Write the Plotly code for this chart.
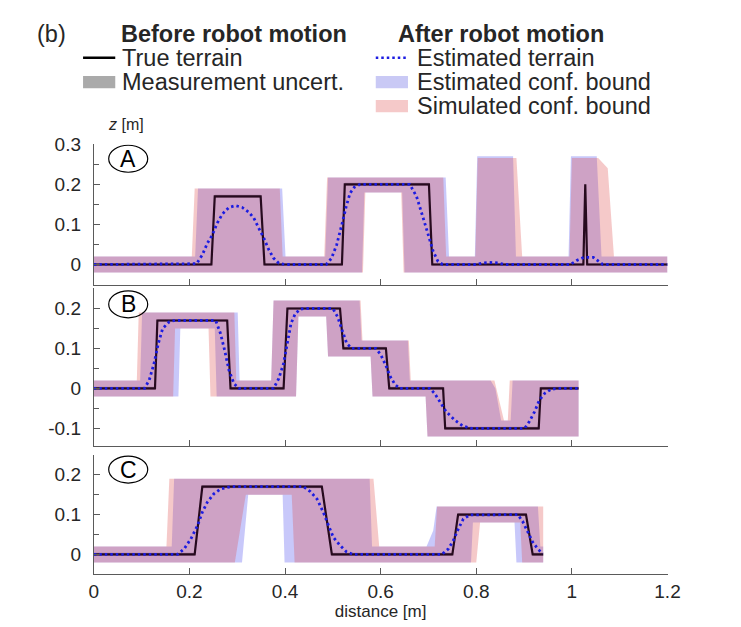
import plotly.graph_objects as go

W, H = 741, 627
FONT = "Liberation Sans, Arial, Helvetica, sans-serif"
TXT = "#262626"
AX = "#5a5a5a"

# ---------------- data ----------------
x_ticks = [0, 0.2, 0.4, 0.6, 0.8, 1.0, 1.2]
x_labels = ["0", "0.2", "0.4", "0.6", "0.8", "1", "1.2"]

# Panel A
A_true_x = [0, 0.246, 0.253, 0.349, 0.357, 0.519, 0.525, 0.701, 0.708, 1.024, 1.028, 1.032, 1.2]
A_true_z = [0, 0, 0.17, 0.17, 0, 0, 0.2, 0.2, 0, 0, 0.2, 0, 0]
A_est_x = [0, 0.215, 0.227, 0.2375, 0.248, 0.258, 0.269, 0.2826, 0.2965, 0.3104, 0.324, 0.3347, 0.345,
           0.3556, 0.366, 0.376, 0.387, 0.40, 0.486, 0.497, 0.508, 0.515, 0.521, 0.528, 0.536, 0.545,
           0.557, 0.661, 0.675, 0.689, 0.699, 0.71, 0.72, 0.73, 0.80, 0.815, 0.83, 0.845, 0.86, 0.997,
           1.01, 1.025, 1.045, 1.055, 1.065, 1.2]
A_est_z = [0, 0.002, 0.024, 0.053, 0.074, 0.103, 0.126, 0.1425, 0.147, 0.1425, 0.131, 0.116, 0.091,
           0.066, 0.037, 0.016, 0.003, 0, 0, 0.015, 0.049, 0.08, 0.11, 0.145, 0.178, 0.193,
           0.2, 0.2, 0.17, 0.116, 0.074, 0.0325, 0.0075, 0, 0, 0.004, 0.005, 0.004, 0, 0,
           0.01, 0.018, 0.018, 0.01, 0, 0]
A_eh_x = [0, 0.212, 0.218, 0.394, 0.401, 0.484, 0.490, 0.736, 0.743, 0.797, 0.802, 0.877, 0.883, 0.993, 0.998, 1.052, 1.062, 1.2]
A_eh_z = [0.02, 0.02, 0.19, 0.19, 0.02, 0.02, 0.217, 0.217, 0.02, 0.02, 0.27, 0.27, 0.02, 0.02, 0.27, 0.27, 0.02, 0.02]
A_el_x = [0, 0.561, 0.566, 0.645, 0.650, 1.2]
A_el_z = [-0.02, -0.02, 0.18, 0.18, -0.02, -0.02]
A_sh_x = [0, 0.205, 0.211, 0.389, 0.395, 0.482, 0.488, 0.731, 0.737, 0.798, 0.803, 0.884, 0.896, 0.995, 1.0, 1.055, 1.075, 1.088, 1.2]
A_sh_z = [0.02, 0.02, 0.19, 0.19, 0.02, 0.02, 0.217, 0.217, 0.02, 0.02, 0.266, 0.266, 0.02, 0.02, 0.266, 0.266, 0.24, 0.02, 0.02]
A_sl_x = [0, 0.563, 0.568, 0.643, 0.648, 1.2]
A_sl_z = [-0.02, -0.02, 0.18, 0.18, -0.02, -0.02]

# Panel B
B_true_x = [0, 0.128, 0.133, 0.279, 0.286, 0.397, 0.405, 0.515, 0.522, 0.611, 0.618, 0.7306, 0.735, 0.9306, 0.935, 1.014]
B_true_z = [0, 0, 0.17, 0.17, 0, 0, 0.2, 0.2, 0.1, 0.1, 0, 0, -0.1, -0.1, 0, 0]
B_est_x = [0, 0.106, 0.116, 0.126, 0.135, 0.144, 0.158, 0.17, 0.255, 0.265, 0.2736, 0.2826, 0.293, 0.303,
           0.376, 0.387, 0.397, 0.404, 0.4125, 0.4215, 0.432, 0.44, 0.50, 0.51, 0.519, 0.529, 0.54, 0.59,
           0.60, 0.61, 0.62, 0.63, 0.64, 0.703, 0.713, 0.727, 0.737, 0.755, 0.772, 0.79, 0.901, 0.911,
           0.922, 0.932, 0.943, 0.956, 0.97, 1.014]
B_est_z = [0, 0, 0.021, 0.0625, 0.1125, 0.15, 0.167, 0.17, 0.17, 0.1375, 0.096, 0.046, 0.0125, 0,
           0, 0.025, 0.0625, 0.1125, 0.1625, 0.1875, 0.198, 0.2, 0.2, 0.179, 0.146, 0.1125, 0.1, 0.1,
           0.085, 0.06, 0.03, 0.01, 0, 0, -0.0125, -0.0375, -0.058, -0.079, -0.094, -0.1, -0.1, -0.083,
           -0.058, -0.029, -0.0125, -0.0025, 0, 0]
B_eh_x = [0, 0.097, 0.101, 0.301, 0.305, 0.371, 0.376, 0.556, 0.560, 0.657, 0.661, 0.830, 0.840, 0.852, 0.872, 0.876, 1.014]
B_eh_z = [0.02, 0.02, 0.19, 0.19, 0.02, 0.02, 0.22, 0.22, 0.12, 0.12, 0.02, 0.02, 0.0, -0.08, -0.08, 0.02, 0.02]
B_el_x = [0, 0.177, 0.181, 0.253, 0.257, 0.423, 0.428, 0.486, 0.490, 0.579, 0.583, 0.694, 0.698, 1.014]
B_el_z = [-0.02, -0.02, 0.15, 0.15, -0.02, -0.02, 0.18, 0.18, 0.08, 0.08, -0.02, -0.02, -0.12, -0.12]
B_sh_x = [0, 0.090, 0.094, 0.294, 0.298, 0.371, 0.376, 0.558, 0.562, 0.659, 0.663, 0.838, 0.858, 0.866, 0.870, 1.014]
B_sh_z = [0.02, 0.02, 0.19, 0.19, 0.02, 0.02, 0.22, 0.22, 0.12, 0.12, 0.02, 0.02, -0.08, -0.08, 0.02, 0.02]
B_sl_x = [0, 0.166, 0.170, 0.240, 0.244, 0.423, 0.428, 0.486, 0.490, 0.579, 0.583, 0.694, 0.698, 1.014]
B_sl_z = [-0.02, -0.02, 0.15, 0.15, -0.02, -0.02, 0.18, 0.18, 0.08, 0.08, -0.02, -0.02, -0.12, -0.12]

# Panel C
C_true_x = [0, 0.211, 0.227, 0.477, 0.498, 0.75, 0.762, 0.904, 0.918, 0.94]
C_true_z = [0, 0, 0.17, 0.17, 0, 0, 0.1, 0.1, 0, 0]
C_est_x = [0, 0.175, 0.189, 0.203, 0.217, 0.227, 0.2375, 0.251, 0.265, 0.286, 0.439, 0.453, 0.467, 0.48,
           0.491, 0.501, 0.515, 0.529, 0.543, 0.728, 0.7417, 0.752, 0.7625, 0.7729, 0.7868, 0.8868,
           0.8972, 0.9076, 0.918, 0.9285, 0.939]
C_est_z = [0, 0, 0.014, 0.039, 0.0725, 0.106, 0.131, 0.152, 0.164, 0.17, 0.17, 0.1575, 0.139, 0.106,
           0.0725, 0.043, 0.0225, 0.006, 0, 0, 0.014, 0.035, 0.064, 0.089, 0.099, 0.1,
           0.0825, 0.056, 0.031, 0.014, 0.002]
C_eh_x = [0, 0.163, 0.168, 0.577, 0.582, 0.696, 0.710, 0.717, 0.929, 0.934, 0.94]
C_eh_z = [0.02, 0.02, 0.19, 0.19, 0.02, 0.02, 0.06, 0.12, 0.12, 0.02, 0.02]
C_el_x = [0, 0.310, 0.323, 0.395, 0.399, 0.789, 0.793, 0.880, 0.884, 0.94]
C_el_z = [-0.02, -0.02, 0.15, 0.15, -0.02, -0.02, 0.08, 0.08, -0.02, -0.02]
C_sh_x = [0, 0.152, 0.158, 0.585, 0.597, 0.713, 0.718, 0.94]
C_sh_z = [0.02, 0.02, 0.19, 0.19, 0.02, 0.02, 0.12, 0.12]
C_sl_x = [0, 0.295, 0.318, 0.414, 0.420, 0.800, 0.808, 0.892, 0.896, 0.94]
C_sl_z = [-0.02, -0.02, 0.15, 0.15, -0.02, -0.02, 0.08, 0.08, -0.02, -0.02]

MEAS_UNC = 0.004

panels = [
    dict(name="A", tx=A_true_x, tz=A_true_z, ex=A_est_x, ez=A_est_z,
         eh=(A_eh_x, A_eh_z), el=(A_el_x, A_el_z), sh=(A_sh_x, A_sh_z), sl=(A_sl_x, A_sl_z),
         yrange=[-0.05, 0.3], yticks=[0, 0.1, 0.2, 0.3], ylabels=["0", "0.1", "0.2", "0.3"],
         yminor=[-0.05, 0.05, 0.15, 0.25], ypx=(136.5, 279), lab_y=0.264),
    dict(name="B", tx=B_true_x, tz=B_true_z, ex=B_est_x, ez=B_est_z,
         eh=(B_eh_x, B_eh_z), el=(B_el_x, B_el_z), sh=(B_sh_x, B_sh_z), sl=(B_sl_x, B_sl_z),
         yrange=[-0.145, 0.25], yticks=[-0.1, 0, 0.1, 0.2], ylabels=["-0.1", "0", "0.1", "0.2"],
         yminor=[-0.05, 0.05, 0.15], ypx=(283, 443.5), lab_y=0.2105),
    dict(name="C", tx=C_true_x, tz=C_true_z, ex=C_est_x, ez=C_est_z,
         eh=(C_eh_x, C_eh_z), el=(C_el_x, C_el_z), sh=(C_sh_x, C_sh_z), sl=(C_sl_x, C_sl_z),
         yrange=[-0.05, 0.25], yticks=[0, 0.1, 0.2], ylabels=["0", "0.1", "0.2"],
         yminor=[0.05, 0.15], ypx=(452, 573.5), lab_y=0.213),
]

BLUE_FILL = "rgba(72,72,238,0.3)"
PINK_FILL = "rgba(222,75,75,0.3)"
GRAY_FILL = "rgba(120,120,120,0.55)"
LINE_COL = "rgb(38,10,30)"
DOT_COL = "rgb(28,28,225)"

X_LEFT, X_RIGHT = 91, 679


def poly(hi, lo):
    xs = list(hi[0]) + list(lo[0])[::-1]
    ys = list(hi[1]) + list(lo[1])[::-1]
    return xs, ys


fig = go.Figure()
layout_axes = {}
shapes = []
annotations = []

for i, p in enumerate(panels):
    k = "" if i == 0 else str(i + 1)
    xa, ya = "x" + k, "y" + k
    mx = list(p["tx"]) + list(p["tx"])[::-1]
    my = [z + MEAS_UNC for z in p["tz"]] + [z - MEAS_UNC for z in p["tz"]][::-1]
    fig.add_trace(go.Scatter(x=mx, y=my, fill="toself", fillcolor=GRAY_FILL, mode="none",
                             xaxis=xa, yaxis=ya, showlegend=False, hoverinfo="skip"))
    bx, by = poly(p["eh"], p["el"])
    fig.add_trace(go.Scatter(x=bx, y=by, fill="toself", fillcolor=BLUE_FILL, mode="none",
                             xaxis=xa, yaxis=ya, showlegend=False, hoverinfo="skip"))
    sx, sy = poly(p["sh"], p["sl"])
    fig.add_trace(go.Scatter(x=sx, y=sy, fill="toself", fillcolor=PINK_FILL, mode="none",
                             xaxis=xa, yaxis=ya, showlegend=False, hoverinfo="skip"))
    fig.add_trace(go.Scatter(x=p["tx"], y=p["tz"], mode="lines",
                             line=dict(color=LINE_COL, width=2.2),
                             xaxis=xa, yaxis=ya, showlegend=False))
    fig.add_trace(go.Scatter(x=p["ex"], y=p["ez"], mode="lines",
                             line=dict(color=DOT_COL, width=2.8, dash="2.5px,3px"),
                             xaxis=xa, yaxis=ya, showlegend=False))

    y0px, y1px = p["ypx"]
    layout_axes["xaxis" + k] = dict(
        domain=[X_LEFT / W, X_RIGHT / W], range=[0, 1.2], anchor=ya,
        tickmode="array", tickvals=x_ticks, ticktext=x_labels,
        showticklabels=(i == 2), ticks="inside", ticklen=6, tickcolor=AX, tickwidth=1,
        showline=True, linecolor=AX, linewidth=1, showgrid=False, zeroline=False,
        tickfont=dict(family=FONT, size=19, color=TXT), ticklabelstandoff=0,
    )
    layout_axes["yaxis" + k] = dict(
        domain=[1 - y1px / H, 1 - y0px / H], range=p["yrange"], anchor=xa,
        tickmode="array", tickvals=p["yticks"], ticktext=p["ylabels"],
        ticks="inside", ticklen=6, tickcolor=AX, tickwidth=1,
        minor=dict(tickmode="array", tickvals=p["yminor"], ticks="inside", ticklen=5,
                   tickcolor=AX, tickwidth=1, showgrid=False),
        showline=True, linecolor=AX, linewidth=1, showgrid=False, zeroline=False,
        tickfont=dict(family=FONT, size=19, color=TXT), ticklabelstandoff=8,
    )
    shapes.append(dict(type="circle", xref=xa, yref=ya, xsizemode="pixel", ysizemode="pixel",
                       xanchor=0.072, yanchor=p["lab_y"], x0=-19.5, x1=19.5, y0=-13.5, y1=13.5,
                       line=dict(color="black", width=1.2), fillcolor="rgba(0,0,0,0)"))
    annotations.append(dict(x=0.072, y=p["lab_y"], xref=xa, yref=ya, text=p["name"], showarrow=False,
                            font=dict(family=FONT, size=23, color="black"),
                            xanchor="center", yanchor="middle"))

layout_axes["xaxis3"]["title"] = dict(text="distance [m]", font=dict(family=FONT, size=17, color=TXT),
                                      standoff=0)


def px(x):
    return x / W


def py(y):
    return 1 - y / H


LEG_FS_L = 23.5
LEG_FS_R = 23.5
annotations.append(dict(x=px(104), y=py(116), xref="paper", yref="paper", text="<i>z</i> [m]",
                        showarrow=False, xanchor="left", yanchor="middle",
                        font=dict(family=FONT, size=16, color=TXT)))
R0, R1, R2, R3 = 24, 48.5, 73, 97.5
leg_items = [
    (31, R0, "(b)", LEG_FS_L),
    (117, R0, "<b>Before robot motion</b>", LEG_FS_L),
    (118, R1, "True terrain", LEG_FS_L),
    (118, R2, "Measurement uncert.", LEG_FS_L),
    (401, R0, "<b>After robot motion</b>", LEG_FS_R),
    (420, R1, "Estimated terrain", LEG_FS_R),
    (420, R2, "Estimated conf. bound", LEG_FS_R),
    (420, R3, "Simulated conf. bound", LEG_FS_R),
]
for x, y, t, fs in leg_items:
    annotations.append(dict(x=px(x), y=py(y), xref="paper", yref="paper", text=t, showarrow=False,
                            xanchor="left", yanchor="middle",
                            font=dict(family=FONT, size=fs, color=TXT)))

shapes += [
    dict(type="line", xref="paper", yref="paper", x0=px(80), x1=px(113), y0=py(R1), y1=py(R1),
         line=dict(color="black", width=2.5)),
    dict(type="rect", xref="paper", yref="paper", x0=px(80), x1=px(113), y0=py(R2 - 6), y1=py(R2 + 6.5),
         line=dict(width=0), fillcolor="rgb(170,170,170)"),
    dict(type="line", xref="paper", yref="paper", x0=px(380), x1=px(413), y0=py(R1), y1=py(R1),
         line=dict(color=DOT_COL, width=2.5, dash="2.5px,3px")),
    dict(type="rect", xref="paper", yref="paper", x0=px(380), x1=px(413), y0=py(R2 - 6), y1=py(R2 + 6.5),
         line=dict(width=0), fillcolor="rgb(201,201,245)"),
    dict(type="rect", xref="paper", yref="paper", x0=px(380), x1=px(413), y0=py(R3 - 6), y1=py(R3 + 6.5),
         line=dict(width=0), fillcolor="rgb(245,201,201)"),
]

fig.update_layout(
    width=W, height=H, margin=dict(l=0, r=0, t=0, b=0),
    paper_bgcolor="white", plot_bgcolor="white",
    font=dict(family=FONT, color=TXT),
    showlegend=False, shapes=shapes, annotations=annotations,
    **layout_axes,
)

fig.write_html("out.html")
